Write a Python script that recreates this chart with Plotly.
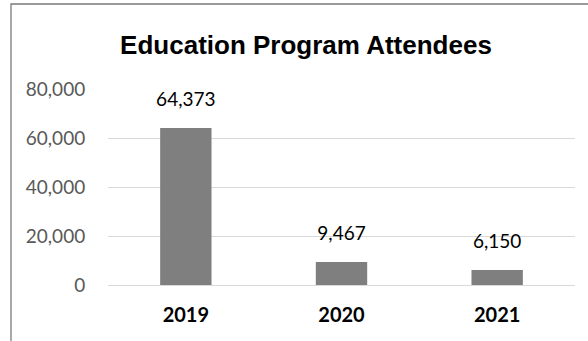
import plotly.graph_objects as go

years = ["2019", "2020", "2021"]
attendees = [64373, 9467, 6150]
tick_vals = [0, 20000, 40000, 60000, 80000]
tick_text = ["0", "20,000", "40,000", "60,000", "80,000"]

W, H = 588, 341
L, R, T, B = 108, 13, 89, 56
pw, ph = W - L - R, H - T - B

fig = go.Figure()
fig.add_trace(go.Bar(
    x=years, y=attendees,
    marker=dict(color="#7f7f7f", line=dict(width=0)),
    width=0.33,
    hoverinfo="skip",
))

# value labels above each bar (invisible marker sets the gap)
fig.add_trace(go.Scatter(
    x=years, y=attendees,
    mode="markers+text",
    text=[f"{v:,}" for v in attendees],
    textposition="top center",
    marker=dict(size=26, opacity=0),
    textfont=dict(family="Lato", size=19, color="#000000"),
    hoverinfo="skip", cliponaxis=False,
))

# outer chart frame (left and top edges visible)
fig.add_shape(
    type="rect", xref="paper", yref="paper",
    x0=(11 - L) / pw, x1=(W + 20 - L) / pw,
    y0=-(H + 20 - T - ph) / ph, y1=(T + ph - 4) / ph,
    line=dict(color="#7a7a7a", width=1.3), fillcolor="rgba(0,0,0,0)",
    layer="below",
)

fig.update_layout(
    width=W, height=H,
    margin=dict(l=L, r=R, t=T, b=B, autoexpand=False),
    paper_bgcolor="white", plot_bgcolor="white",
    showlegend=False,
    title=dict(
        text="<b>Education Program Attendees</b>",
        x=(306) / W, xanchor="center", y=1 - 45 / H, yanchor="middle",
        font=dict(family="Liberation Sans", size=26, color="#000000"),
    ),
    xaxis=dict(
        type="category",
        tickvals=years, ticktext=[f"<b>{y}</b>" for y in years],
        showgrid=False, showline=False, zeroline=False,
        ticks="outside", ticklen=12, tickcolor="rgba(0,0,0,0)",
        tickfont=dict(family="Lato", size=20, color="#000000"),
    ),
    yaxis=dict(
        range=[0, 80300], tickvals=tick_vals, ticktext=tick_text,
        showgrid=True, gridcolor="#d9d9d9", gridwidth=1.3,
        zeroline=True, zerolinecolor="#d9d9d9", zerolinewidth=1.3,
        showline=False,
        ticks="outside", ticklen=18, tickcolor="rgba(0,0,0,0)",
        tickfont=dict(family="Lato", size=19, color="#595959"),
    ),
)

fig.write_html("out.html")
